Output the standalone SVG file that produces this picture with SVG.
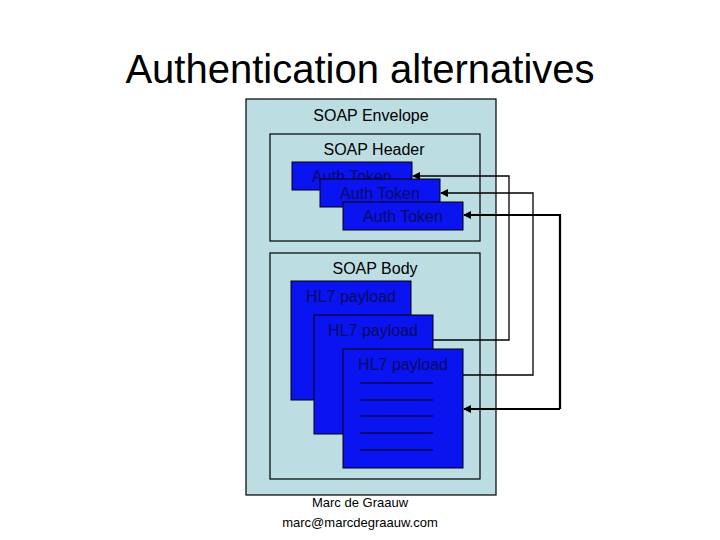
<svg xmlns="http://www.w3.org/2000/svg" width="720" height="540" viewBox="0 0 720 540">
<defs>
<style>
text{font-family:"Liberation Sans",Arial,sans-serif;text-anchor:middle}
.box{fill:#bcdde2;stroke:#000;stroke-width:1.2}
.blue{fill:#0a14f0;stroke:#000;stroke-width:1}
.bt{font-size:16px;fill:#0a0a60}
.lbl{font-size:16px;fill:#000}
.ln{stroke:#000;stroke-width:1}
.c{fill:none;stroke:#000}
</style>
<marker id="ah" markerWidth="8" markerHeight="8" refX="7" refY="4" orient="auto" markerUnits="userSpaceOnUse"><path d="M0,0L8,4L0,8z" fill="#000"/></marker>
</defs>
<rect width="720" height="540" fill="#fff"/>
<text x="360" y="83" style="font-size:40px">Authentication alternatives</text>
<g id="envelope"><rect class="box" x="246" y="99" width="250" height="396"/><text class="lbl" x="371" y="121">SOAP Envelope</text></g>
<g id="header"><rect class="box" x="270" y="134" width="210" height="107"/><text class="lbl" x="374" y="155">SOAP Header</text></g>
<g id="token1"><rect class="blue" x="292" y="162" width="120" height="28"/><text class="bt" x="352" y="182">Auth Token</text></g>
<g id="token2"><rect class="blue" x="320" y="179" width="120" height="28"/><text class="bt" x="380" y="199">Auth Token</text></g>
<g id="token3"><rect class="blue" x="343" y="202" width="120" height="28"/><text class="bt" x="403" y="222">Auth Token</text></g>
<g id="body"><rect class="box" x="270" y="253" width="210" height="226"/><text class="lbl" x="375" y="274">SOAP Body</text></g>
<g id="payload1"><rect class="blue" x="291" y="281" width="120" height="119"/><text class="bt" x="351" y="302">HL7 payload</text></g>
<g id="payload2"><rect class="blue" x="314" y="315" width="119" height="119"/><text class="bt" x="373" y="336">HL7 payload</text></g>
<g id="payload3"><rect class="blue" x="343" y="349" width="120" height="119"/><text class="bt" x="403" y="370">HL7 payload</text>
<path class="ln" d="M360,383H433M360,400H433M360,416H433M360,433H433M360,450H433"/></g>
<g id="connectors">
<path class="c" stroke-width="1.3" d="M433,340H509V176H413" marker-end="url(#ah)"/>
<path class="c" stroke-width="1.3" d="M463,375H533V193H441" marker-end="url(#ah)"/>
<path class="c" stroke-width="2.2" d="M560,409V215H464" marker-end="url(#ah)"/>
<path class="c" stroke-width="2.2" d="M560,409H464" marker-end="url(#ah)"/>
</g>
<text x="360" y="507" style="font-size:13px">Marc de Graauw</text>
<text x="360" y="527" style="font-size:13px">marc@marcdegraauw.com</text>
</svg>
